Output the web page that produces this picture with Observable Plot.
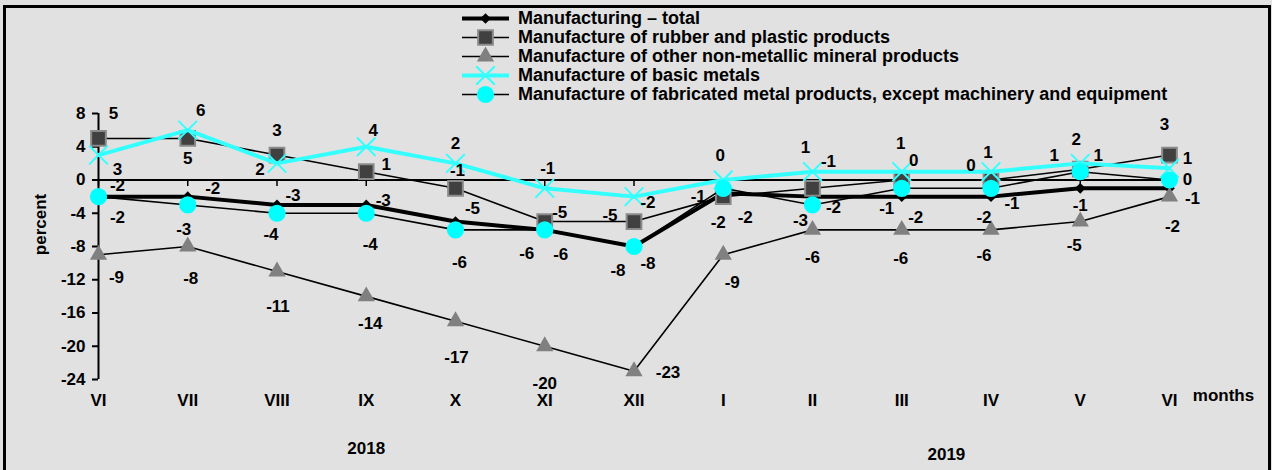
<!DOCTYPE html>
<html><head><meta charset="utf-8">
<script src="https://cdn.jsdelivr.net/npm/d3@7"></script>
<script src="https://cdn.jsdelivr.net/npm/@observablehq/plot@0.6"></script>
<style>
html,body{margin:0;padding:0;background:#e1e1e1;}
#wrap{position:relative;width:1272px;height:470px;overflow:hidden;background:#e1e1e1;font-family:"Liberation Sans",Arial,sans-serif;font-weight:bold;}
#chart{position:absolute;left:0;top:0;}
#border{position:absolute;left:3px;top:5px;width:1268px;height:480px;box-sizing:border-box;border:3px solid #000;pointer-events:none;}
#legend{position:absolute;left:461px;top:9px;font-size:18px;color:#000;}
.row{display:flex;align-items:center;height:19px;white-space:nowrap;}
.row svg{margin-right:8px;display:block;}
</style></head><body>
<div id="wrap"><div id="chart"></div><div id="legend"></div><div id="border"></div></div>
<script>
// ---- data ----
const months = ["VI","VII","VIII","IX","X","XI","XII","I","II","III","IV","V","VI"];
const yearLabels = ["2018","2019"];
const yearStart = [0, 7];
const yearEnd = [6, 12];
const yTicks = [8,4,0,-4,-8,-12,-16,-20,-24];

const seriesNames = [
  "Manufacturing – total",
  "Manufacture of rubber and plastic products",
  "Manufacture of other non-metallic mineral products",
  "Manufacture of basic metals",
  "Manufacture of fabricated metal products, except machinery and equipment"
];
const total       = [-2,-2,-3,-3,-5,-6,-8,-1.6,-2,-2,-2,-1,-1];
const rubber      = [5,5,3,1,-1,-5,-5,-2,-1,0,0,1.3,3];
const nonMetallic = [-9,-8,-11,-14,-17,-20,-23,-9,-6,-6,-6,-5,-2];
const basicMetals = [3,6,2,4,2,-1,-2,0,1,1,1,2,1.4];
const fabricated  = [-2,-3,-4,-4,-6,-6,-8,-1,-3,-1,-1,1,0];

// ---- styles (label offsets in px, per point) ----
const styles = [
  {values: total, line: "#000", lw: 4, symbol: "diamond2", fill: "#000", mstroke: "none", msw: 0, r: 4.8,
   off: [[19,-11],[25,-8],[16,-9],[17,-4],[17,-13],[16,25],[14,17],[22,24],[21,11],[14,21],[-7,21],[0,17],[23,10]]},
  {values: rubber, line: "#000", lw: 1.6, symbol: "square", fill: "#404040", mstroke: "#8a8a8a", msw: 2, r: 8.3,
   off: [[15,-25],[0,20],[0,-25],[20,-7],[2,-18],[15,-9],[-24,-6],[-5,26],[16,-27],[12,-19],[-20,-14],[-26,-14],[-5,-31]]},
  {values: nonMetallic, line: "#000", lw: 1.6, symbol: "triangle", fill: "#808080", mstroke: "none", msw: 0, r: 6.4,
   off: [[18,23],[3,32],[1,35],[4,27],[1,36],[0,37],[34,1],[9,28],[0,28],[-1,29],[-7,26],[-6,24],[3,30]]},
  {values: basicMetals, line: "#33ffff", lw: 4, symbol: "times", fill: "none", mstroke: "#33ffff", msw: 2, r: 8.5,
   off: [[19,14],[13,-20],[-17,6],[7,-16],[0,-20],[3,-20],[14,6],[-3,-24],[-7,-24],[-1,-28],[-3,-19],[-4,-24],[18,-10]]},
  {values: fabricated, line: "#000", lw: 1.6, symbol: "circle", fill: "#00ffff", mstroke: "none", msw: 0, r: 8.6,
   off: [[19,21],[-4,25],[-6,21],[4,31],[4,33],[-18,24],[-16,24],[-25,8],[-12,16],[-15,20],[21,15],[18,-16],[18,0]]}
];

const FS = 17;
const idx = months.map((_, i) => i);
const fmt = v => { const r = Math.round(v); return String(r === 0 ? 0 : r); };
const tickDown = {draw(ctx) { ctx.moveTo(0, 0); ctx.lineTo(0, 6); }};

const marks = [
  Plot.ruleY([0], {stroke: "#000", strokeWidth: 2}),
  Plot.dot(idx, {x: d => d, y: () => 0, symbol: tickDown, stroke: "#000", strokeWidth: 1.5, r: 3}),
  Plot.ruleX([0], {stroke: "#000", strokeWidth: 2}),
  Plot.axisY({ticks: yTicks, tickFormat: d => String(d), tickSize: 6, tickPadding: 7, label: null, strokeWidth: 2, fontSize: FS, fontWeight: "bold"}),
  Plot.axisX({ticks: idx, tickFormat: i => months[i], tickSize: 0, tickPadding: 14, label: null, fontSize: FS, fontWeight: "bold"})
];

styles.forEach(s => {
  marks.push(Plot.line(s.values, {x: (d, i) => i, y: d => d, stroke: s.line, strokeWidth: s.lw, strokeLinejoin: "round"}));
  marks.push(Plot.dot(s.values, {x: (d, i) => i, y: d => d, symbol: s.symbol, r: s.r, fill: s.fill, stroke: s.mstroke, strokeWidth: s.msw}));
});
styles.forEach(s => {
  s.values.forEach((v, i) => {
    marks.push(Plot.text([v], {x: () => i, y: d => d, text: fmt, dx: s.off[i][0], dy: s.off[i][1], fontSize: FS, fontWeight: "bold", fill: "#000"}));
  });
});
marks.push(Plot.text(["months"], {x: () => 12, frameAnchor: "bottom", dx: 54, dy: 21, fontSize: FS, fontWeight: "bold"}));
marks.push(Plot.text([yearLabels[0]], {x: () => (yearStart[0] + yearEnd[0]) / 2, frameAnchor: "bottom", dy: 74, fontSize: FS, fontWeight: "bold"}));
marks.push(Plot.text([yearLabels[1]], {x: () => (yearStart[1] + yearEnd[1]) / 2, frameAnchor: "bottom", dy: 80, fontSize: FS, fontWeight: "bold"}));
marks.push(Plot.text(["percent"], {frameAnchor: "left", textAnchor: "middle", dx: -58, dy: -22, rotate: -90, fontSize: FS, fontWeight: "bold"}));

const chart = Plot.plot({
  width: 1272, height: 470,
  marginLeft: 98, marginRight: 103, marginTop: 113, marginBottom: 91,
  x: {type: "linear", domain: [0, 12]},
  y: {domain: [-24, 8]},
  style: {background: "transparent", fontFamily: "'Liberation Sans', Arial, sans-serif", fontSize: FS + "px", fontWeight: "bold", color: "#000"},
  marks
});
document.getElementById("chart").appendChild(chart);

// ---- legend ----
const symMap = {diamond2: d3.symbolDiamond2, square: d3.symbolSquare, triangle: d3.symbolTriangle, times: d3.symbolTimes, circle: d3.symbolCircle};
const legend = document.getElementById("legend");
styles.forEach((s, k) => {
  const row = document.createElement("div");
  row.className = "row";
  const size = Math.PI * s.r * s.r;
  const path = d3.symbol(symMap[s.symbol], size)();
  row.innerHTML = `<svg width="49" height="19"><line x1="1" x2="48" y1="9.5" y2="9.5" stroke="${s.line}" stroke-width="${s.lw}"/>` +
    `<path transform="translate(24.5,9.5)" d="${path}" fill="${s.fill}" stroke="${s.mstroke}" stroke-width="${s.msw}"/></svg>` +
    `<span>${seriesNames[k]}</span>`;
  legend.appendChild(row);
});
</script>
</body></html>
